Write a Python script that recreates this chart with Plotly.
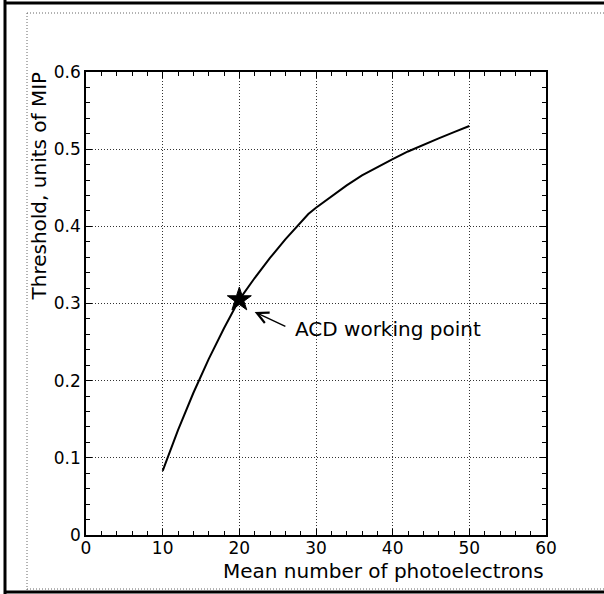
import plotly.graph_objects as go

# Data
pe_mean = [10, 12, 14, 16, 18, 20, 22, 24, 26, 28, 29, 30, 32, 34, 36, 38, 40, 42, 44, 46, 48, 50]
threshold = [0.083, 0.136, 0.184, 0.228, 0.268, 0.305, 0.333, 0.359, 0.383, 0.405, 0.416,
             0.424, 0.439, 0.453, 0.466, 0.477, 0.487, 0.497, 0.506, 0.514, 0.522, 0.530]
working_x = [20]
working_y = [0.305]
x_ticks = [0, 10, 20, 30, 40, 50, 60]
y_ticks = [0, 0.1, 0.2, 0.3, 0.4, 0.5, 0.6]

W, H = 604, 594
L, R, T, B = 86, 58, 72, 59
PW, PH = W - L - R, H - T - B


def px(x):
    return (x - L) / PW


def py(y):
    return (H - B - y) / PH


FONT = "DejaVu Sans"

fig = go.Figure()
fig.add_trace(go.Scatter(x=pe_mean, y=threshold, mode="lines",
                         line=dict(color="black", width=2), showlegend=False))
fig.add_trace(go.Scatter(x=working_x, y=working_y, mode="markers",
                         marker=dict(symbol="star", size=18, color="black",
                                     line=dict(color="black", width=1)),
                         showlegend=False))

axis_common = dict(
    showline=True, linecolor="black", linewidth=1.5, mirror="ticks",
    ticks="inside", ticklen=6, tickwidth=1, tickcolor="black",
    showgrid=True, gridcolor="#333", griddash="1px,2px", gridwidth=1,
    zeroline=False,
    tickfont=dict(family=FONT, size=17, color="black"),
    minor=dict(ticks="inside", ticklen=4, tickwidth=1, tickcolor="black", showgrid=False),
)

fig.update_xaxes(range=[0, 60], tickvals=x_ticks, ticktext=[str(v) for v in x_ticks],
                 minor_dtick=2, ticklabelstandoff=-3, **axis_common)
fig.update_yaxes(range=[0, 0.6], tickvals=y_ticks,
                 ticktext=["0", "0.1", "0.2", "0.3", "0.4", "0.5", "0.6"],
                 minor_dtick=0.02, **axis_common)

# Axis titles
fig.add_annotation(text="Mean number of photoelectrons", xref="paper", yref="paper",
                   x=1.0, y=py(571), xanchor="right", yanchor="middle", showarrow=False,
                   font=dict(family=FONT, size=20, color="black"))
fig.add_annotation(text="Threshold, units of MIP", xref="paper", yref="paper",
                   x=px(38), y=py(70), xanchor="center", yanchor="top", textangle=-90,
                   showarrow=False, font=dict(family=FONT, size=20, color="black"))

# Working point label + arrow
fig.add_annotation(text="ACD working point", xref="x", yref="y",
                   x=27.0, y=0.267, xanchor="left", yanchor="middle", showarrow=False,
                   font=dict(family=FONT, size=20, color="black"))
fig.add_annotation(text="", xref="x", yref="y", x=22.0, y=0.289,
                   axref="x", ayref="y", ax=26.2, ay=0.2695,
                   showarrow=True, arrowhead=5, arrowsize=1.6, arrowwidth=1.4,
                   arrowcolor="black")

# Page frame (decorative borders)
shapes = []
# thick outer border
shapes.append(dict(type="line", xref="paper", yref="paper", x0=px(5), x1=px(5), y0=py(0), y1=py(594),
                   line=dict(color="black", width=3)))
shapes.append(dict(type="line", xref="paper", yref="paper", x0=px(4), x1=px(604), y0=py(3), y1=py(3),
                   line=dict(color="black", width=3)))
shapes.append(dict(type="line", xref="paper", yref="paper", x0=px(4), x1=px(604), y0=py(592), y1=py(592),
                   line=dict(color="black", width=3)))
# thin inner border
shapes.append(dict(type="line", xref="paper", yref="paper", x0=px(27), x1=px(27), y0=py(13), y1=py(590),
                   line=dict(color="#666", width=1, dash="1px,2px")))
shapes.append(dict(type="line", xref="paper", yref="paper", x0=px(27), x1=px(604), y0=py(13), y1=py(13),
                   line=dict(color="#666", width=1, dash="1px,2px")))
shapes.append(dict(type="line", xref="paper", yref="paper", x0=px(27), x1=px(604), y0=py(589), y1=py(589),
                   line=dict(color="#666", width=1, dash="1px,2px")))
fig.update_layout(shapes=shapes)

fig.update_layout(
    width=W, height=H,
    margin=dict(l=L, r=R, t=T, b=B),
    paper_bgcolor="white", plot_bgcolor="white",
    font=dict(family=FONT, color="black"),
    showlegend=False,
)

fig.write_html("out.html")
